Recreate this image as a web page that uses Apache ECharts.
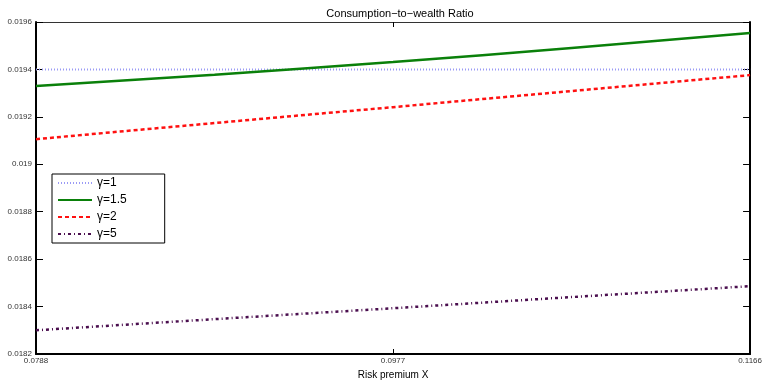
<!DOCTYPE html>
<html>
<head>
<meta charset="utf-8">
<script src="https://cdn.jsdelivr.net/npm/echarts@6/dist/echarts.min.js"></script>
<style>
  html, body { margin: 0; padding: 0; background: #fff; }
  #chart { width: 765px; height: 385px; }
</style>
</head>
<body>
<div id="chart"></div>
<script>
// Risk premium grid (x) and consumption-to-wealth ratio for each gamma
const riskPremium = [0.0788, 0.08825, 0.0977, 0.10715, 0.1166];
const xTicks = [0.0788, 0.0977, 0.1166];
const gamma1 = [0.0194, 0.0194, 0.0194, 0.0194, 0.0194];
const gamma15 = [0.01933, 0.019378, 0.019431, 0.01949, 0.019554];
const gamma2 = [0.019106, 0.019174, 0.019241, 0.019309, 0.019376];
const gamma5 = [0.0183, 0.018347, 0.018393, 0.01844, 0.018486];
const seriesNames = ['γ=1', 'γ=1.5', 'γ=2', 'γ=5'];

const pairs = arr => riskPremium.map((x, i) => [x, arr[i]]);
const font = 'Liberation Sans, Arial, sans-serif';

const chart = echarts.init(document.getElementById('chart'), null, { renderer: 'canvas' });

const frameLine = (w, c) => ({ show: true, onZero: false, lineStyle: { color: c, width: w } });

chart.setOption({
  animation: false,
  backgroundColor: '#ffffff',
  title: {
    text: 'Consumption\u2212to\u2212wealth Ratio',
    left: 395, top: 3, textAlign: 'center',
    textStyle: { fontFamily: font, fontSize: 11, fontWeight: 'normal', color: '#000' }
  },
  grid: { left: 36, right: 11, top: 22, bottom: 30 },
  legend: {
    show: true,
    orient: 'vertical',
    left: 52, top: 174,
    data: seriesNames,
    itemWidth: 34, itemHeight: 12, itemGap: 5,
    padding: [3, 38, 3, 5],
    borderColor: '#000', borderWidth: 1,
    backgroundColor: '#fff',
    itemStyle: { opacity: 0 },
    textStyle: { fontFamily: font, fontSize: 12, color: '#000' }
  },
  xAxis: [
    {
      type: 'value', min: 0.0788, max: 0.1166, position: 'bottom',
      name: 'Risk premium X', nameLocation: 'middle', nameGap: 16,
      nameTextStyle: { fontFamily: font, fontSize: 10, color: '#000' },
      axisLine: frameLine(2, '#000'),
      axisTick: { show: true, inside: true, length: 5, customValues: xTicks, lineStyle: { color: '#000' } },
      axisLabel: { customValues: xTicks, fontFamily: font, fontSize: 8, color: '#333', margin: 3,
        formatter: v => String(+v.toFixed(4)) },
      splitLine: { show: false }
    },
    {
      type: 'value', min: 0.0788, max: 0.1166, position: 'top',
      axisLine: frameLine(1, '#333'),
      axisTick: { show: true, inside: true, length: 5, customValues: xTicks, lineStyle: { color: '#000' } },
      axisLabel: { show: false },
      splitLine: { show: false }
    }
  ],
  yAxis: [
    {
      type: 'value', min: 0.0182, max: 0.0196, interval: 0.0002, position: 'left',
      axisLine: frameLine(2, '#000'),
      axisTick: { show: true, inside: true, length: 7, lineStyle: { color: '#000' } },
      axisLabel: { fontFamily: font, fontSize: 8, color: '#333', margin: 4,
        formatter: v => String(+v.toFixed(4)) },
      splitLine: { show: false }
    },
    {
      type: 'value', min: 0.0182, max: 0.0196, interval: 0.0002, position: 'right',
      axisLine: frameLine(2, '#000'),
      axisTick: { show: true, inside: true, length: 7, lineStyle: { color: '#000' } },
      axisLabel: { show: false },
      splitLine: { show: false }
    }
  ],
  series: [
    {
      name: seriesNames[0], type: 'line', data: pairs(gamma1), showSymbol: false, symbol: 'none',
      lineStyle: { color: '#9a9af5', width: 2, type: [1, 2] }, itemStyle: { color: '#9a9af5' }
    },
    {
      name: seriesNames[1], type: 'line', data: pairs(gamma15), showSymbol: false, symbol: 'none', smooth: true,
      lineStyle: { color: '#0a800a', width: 2.5, type: 'solid' }, itemStyle: { color: '#0a800a' }
    },
    {
      name: seriesNames[2], type: 'line', data: pairs(gamma2), showSymbol: false, symbol: 'none',
      lineStyle: { color: '#ff1010', width: 2.5, type: [4, 3] }, itemStyle: { color: '#ff1010' }
    },
    {
      name: seriesNames[3], type: 'line', data: pairs(gamma5), showSymbol: false, symbol: 'none',
      lineStyle: { color: '#4a0e4e', width: 2.5, type: [3, 3, 1, 3] }, itemStyle: { color: '#4a0e4e' }
    }
  ]
});
</script>
</body>
</html>
